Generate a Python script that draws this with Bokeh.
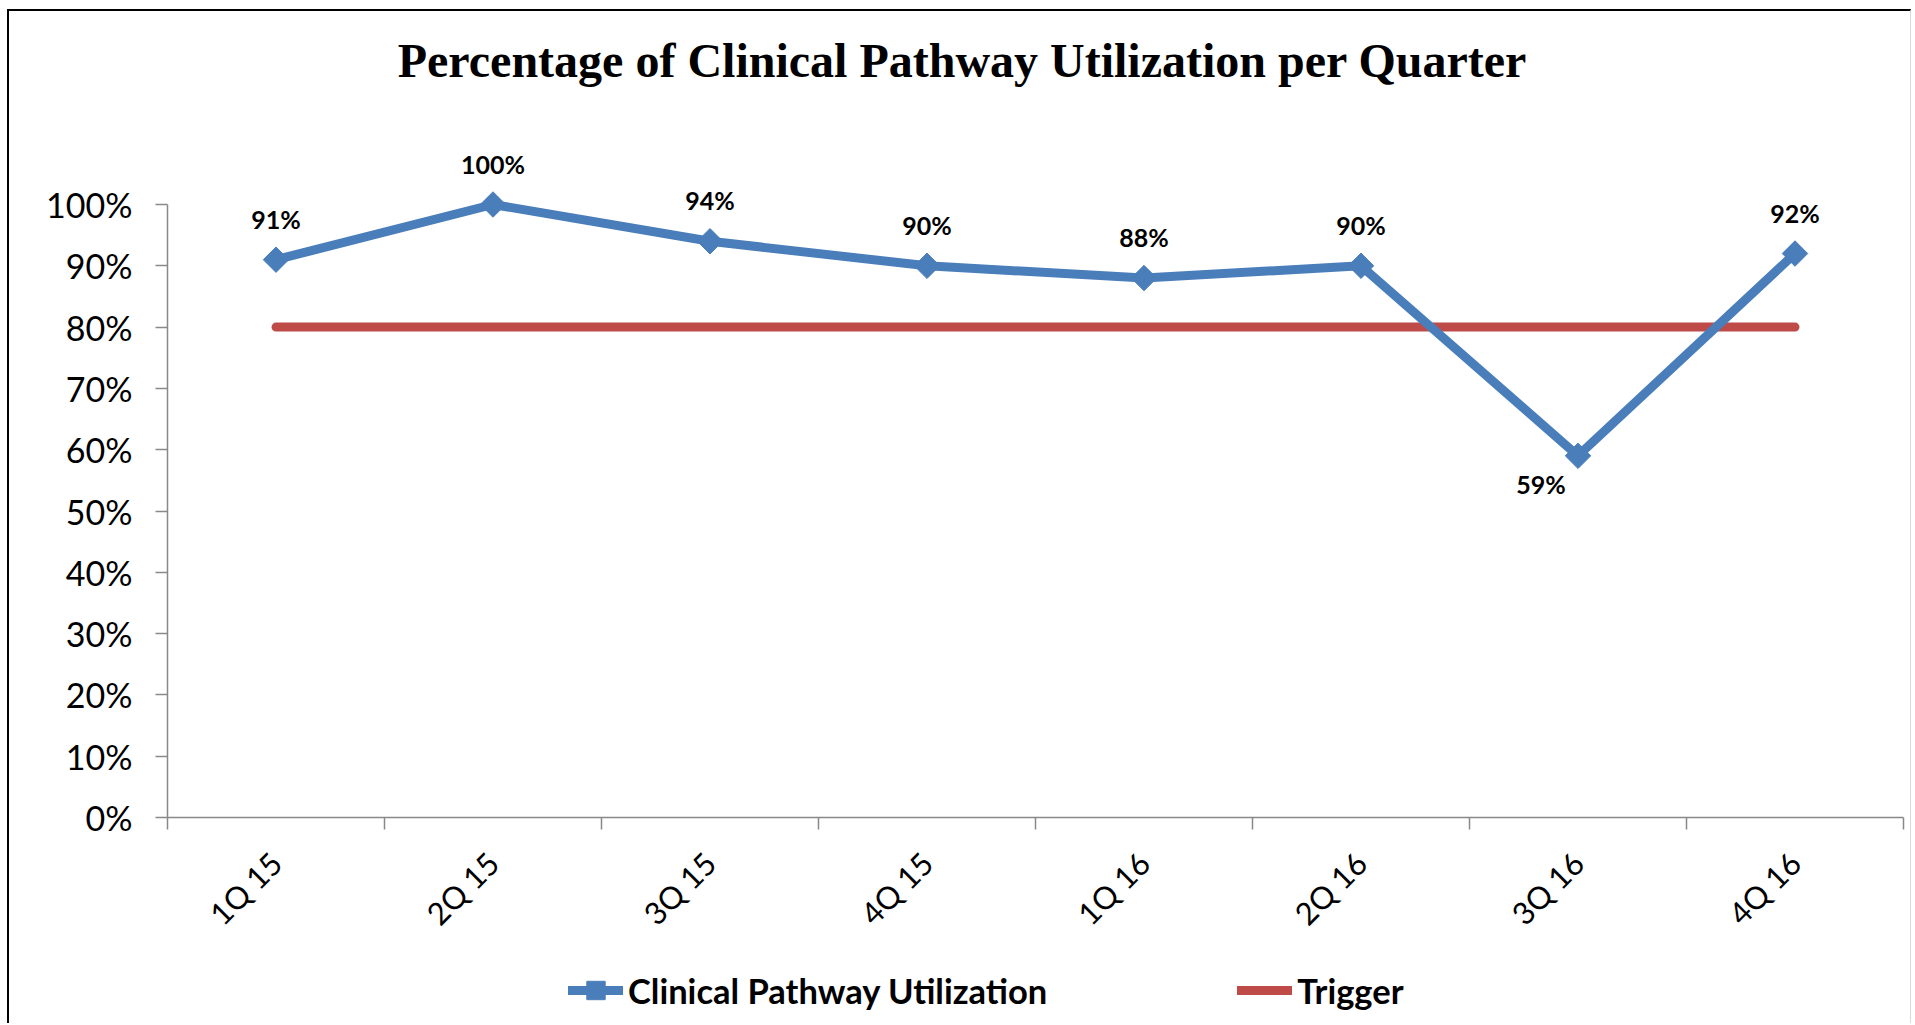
import math
from bokeh.plotting import figure
from bokeh.models import (Range1d, FixedTicker, NumeralTickFormatter, ColumnDataSource,
                          LabelSet, Label, Legend, LegendItem)
from bokeh.core.properties import value
from bokeh.embed import file_html
from bokeh.resources import INLINE

# ---- data ----
title_text = "Percentage of Clinical Pathway Utilization per Quarter"
quarters = ["1Q 15", "2Q 15", "3Q 15", "4Q 15", "1Q 16", "2Q 16", "3Q 16", "4Q 16"]
utilization = [0.91, 1.00, 0.94, 0.90, 0.88, 0.90, 0.59, 0.92]
trigger = [0.80, 0.80, 0.80, 0.80, 0.80, 0.80, 0.80, 0.80]
y_ticks = [0.0, 0.1, 0.2, 0.3, 0.4, 0.5, 0.6, 0.7, 0.8, 0.9, 1.0]
series_names = ["Clinical Pathway Utilization", "Trigger"]

# ---- style / layout (pixels) ----
BLUE = "#4A7EBB"
RED = "#BE4B48"
AXIS = "#898989"
SANS = "Lato"

W, H = 1904, 1014            # canvas size
OX, OY = 9, 11               # canvas origin on the page
AX_LEFT, AX_RIGHT = 167, 1903  # page x of category axis start / end
Y0, Y100 = 817, 204          # page y of 0% and 100%

n = len(quarters)
ppx = (AX_RIGHT - AX_LEFT) / n
ppy = (Y0 - Y100) / 1.0
x_start = -(AX_LEFT - OX) / ppx
x_end = x_start + W / ppx
y_start = -((OY + H) - Y0) / ppy
y_end = y_start + H / ppy


def dx(px):
    return (px - AX_LEFT) / ppx


def dy(py):
    return (Y0 - py) / ppy


xs = [i + 0.5 for i in range(n)]

p = figure(width=W, height=H,
           x_range=Range1d(x_start, x_end), y_range=Range1d(y_start, y_end),
           output_backend="svg", toolbar_location=None, title=None,
           min_border_left=0, min_border_right=0, min_border_top=0, min_border_bottom=0)
p.styles = {"margin-left": "7px", "margin-top": "9px",
            "border-top": "2px solid #000000", "border-left": "2px solid #000000",
            "border-right": "1px solid #d9d9d9"}
p.xgrid.visible = False
p.ygrid.visible = False
p.outline_line_color = None
p.background_fill_color = "white"
p.border_fill_color = "white"

# y axis
yax = p.yaxis[0]
yax.fixed_location = 0
yax.ticker = FixedTicker(ticks=y_ticks, minor_ticks=[])
yax.formatter = NumeralTickFormatter(format="0%")
yax.bounds = (0, 1)
yax.axis_line_color = AXIS
yax.axis_line_width = 1.5
yax.major_tick_line_color = AXIS
yax.major_tick_line_width = 1.5
yax.major_tick_out = 12
yax.major_tick_in = 0
yax.minor_tick_line_color = None
yax.major_label_standoff = 23
yax.major_label_text_font = SANS
yax.major_label_text_font_size = "34px"
yax.major_label_text_color = "black"

# x axis
xax = p.xaxis[0]
xax.fixed_location = 0
xax.ticker = FixedTicker(ticks=xs, minor_ticks=list(range(n + 1)))
xax.major_label_overrides = {x: q for x, q in zip(xs, quarters)}
xax.bounds = (0, n)
xax.axis_line_color = AXIS
xax.axis_line_width = 1.5
xax.major_tick_line_color = None
xax.minor_tick_line_color = AXIS
xax.minor_tick_line_width = 1.5
xax.minor_tick_out = 12
xax.minor_tick_in = 0
xax.major_label_orientation = math.pi / 4
xax.major_label_standoff = 28
xax.major_label_text_font = SANS
xax.major_label_text_font_size = "31px"
xax.major_label_text_color = "black"

# series
r_trig = p.line(xs, trigger, line_color=RED, line_width=9, line_cap="round")
r_line = p.line(xs, utilization, line_color=BLUE, line_width=9, line_join="round", line_cap="round")
r_pts = p.scatter(xs, utilization, marker="square", size=18, angle=math.pi / 4,
                  fill_color=BLUE, line_color=BLUE)

# data labels
below = [u < t for u, t in zip(utilization, trigger)]
src = ColumnDataSource(dict(
    x=xs, y=utilization,
    text=[f"{round(u * 100)}%" for u in utilization],
    xo=[-37 if b else 0 for b in below],
    yo=[-28 if b else 41 for b in below],
))
p.add_layout(LabelSet(x="x", y="y", text="text", source=src, x_offset="xo", y_offset="yo",
                      text_font=value(SANS), text_font_style="bold", text_font_size="25px",
                      text_align="center", text_baseline="middle", text_color="black"))

# title
p.add_layout(Label(x=dx(962), y=dy(60), text=title_text,
                   text_font="Liberation Serif", text_font_style="bold",
                   text_font_size="48px", text_align="center", text_baseline="middle",
                   text_color="black"))

# legend
legend = Legend(items=[LegendItem(label=series_names[0], renderers=[r_line, r_pts]),
                       LegendItem(label=series_names[1], renderers=[r_trig])],
                orientation="horizontal", location=(568 - OX, (OY + H) - 1013),
                glyph_width=55, glyph_height=46, label_standoff=5, spacing=190,
                padding=0, margin=0, border_line_color=None, background_fill_alpha=0,
                label_text_font=SANS, label_text_font_size="34.5px",
                label_text_font_style="bold", label_text_color="black")
p.add_layout(legend)

open("out.html", "w").write(file_html(p, INLINE))
